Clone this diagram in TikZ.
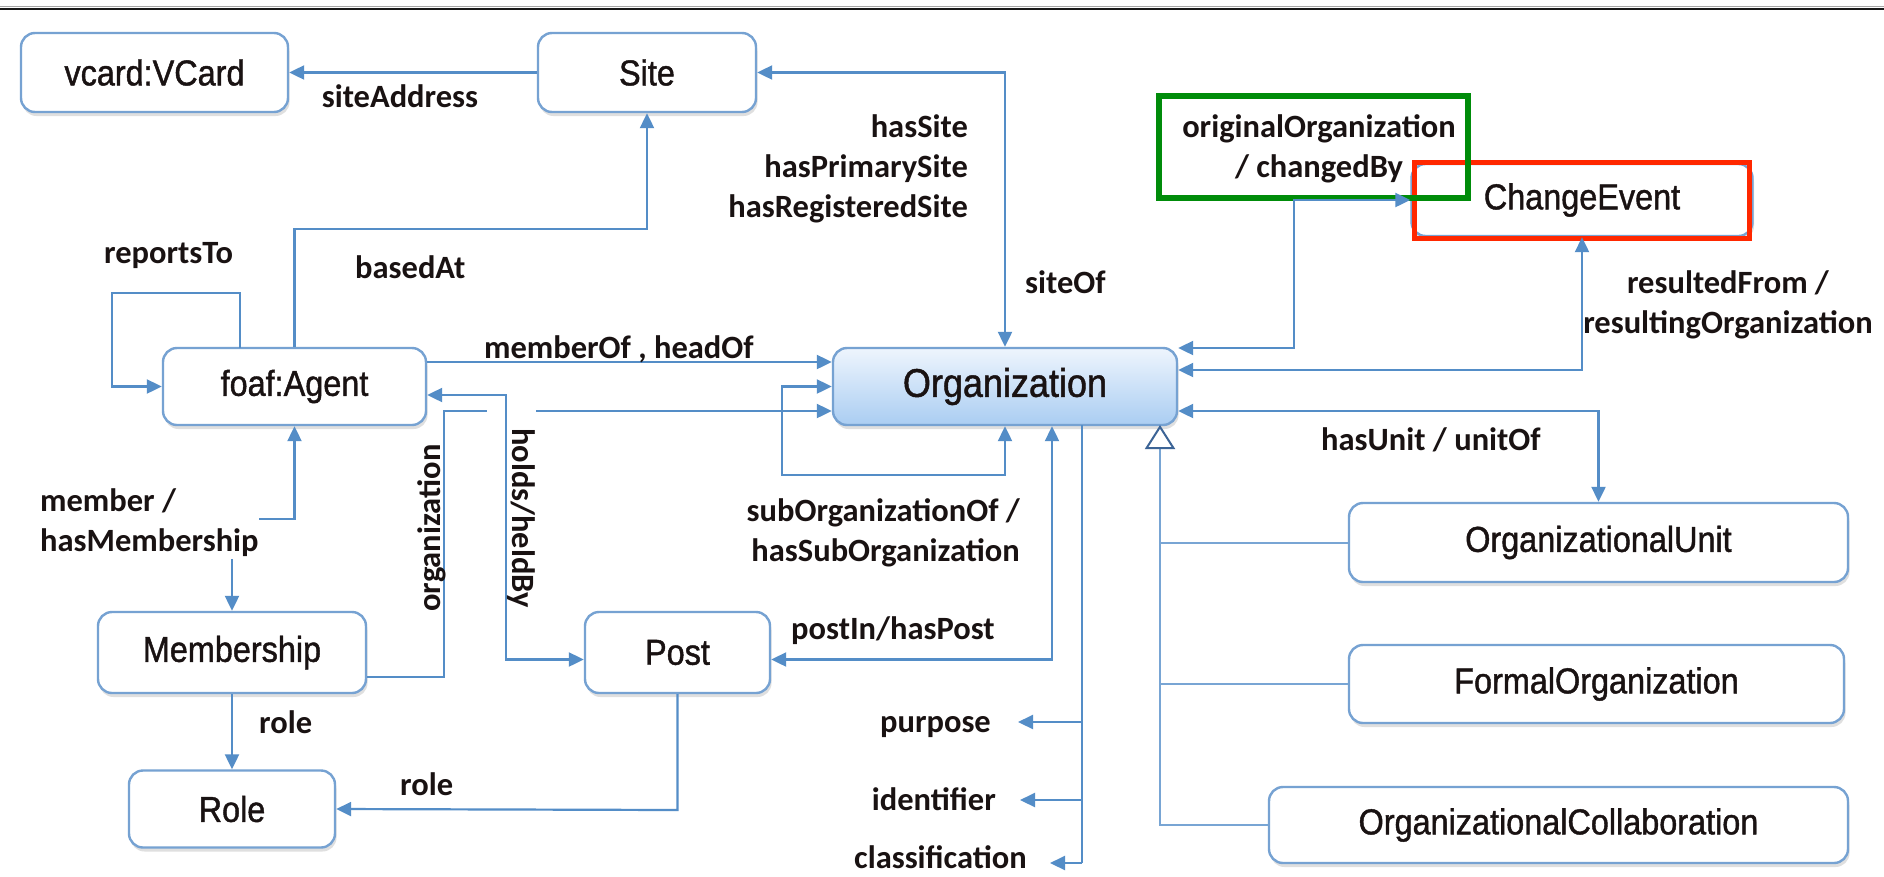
\documentclass[tikz,border=0pt]{standalone}
\usepackage{fontspec}
\setmainfont{Carlito}
\newfontfamily\nodefnt[FakeStretch=0.9,UprightFeatures={FakeBold=1.2}]{Liberation Sans}
\usetikzlibrary{arrows.meta,shadows,calc}
\definecolor{lineblue}{RGB}{84,141,199}
\definecolor{inhblue}{RGB}{120,165,212}
\definecolor{tipblue}{RGB}{60,100,150}
\definecolor{boxblue}{RGB}{118,162,210}
\definecolor{orgtop}{RGB}{238,245,253}
\definecolor{orgbot}{RGB}{170,205,242}
\definecolor{gbox}{RGB}{0,140,10}
\definecolor{rbox}{RGB}{255,40,0}
\definecolor{txt}{RGB}{25,18,18}
\begin{document}
\begin{tikzpicture}[x=1pt,y=-1pt,
  cls/.style={draw=boxblue, line width=2.4pt, rounded corners=14pt, fill=white,
    font=\nodefnt\fontsize{36}{40}\selectfont, text=txt, inner sep=0pt,
    drop shadow={opacity=0.25,shadow xshift=1.5pt,shadow yshift=-4pt}},
  lbl/.style={font=\bfseries\fontsize{32.5}{40}\selectfont, text=txt, inner sep=0pt},
  conn/.style={draw=lineblue, line width=2.2pt, -{Triangle[length=15pt,width=14pt]}},
  conn2/.style={draw=lineblue, line width=2.2pt, {Triangle[length=15pt,width=14pt]}-{Triangle[length=15pt,width=14pt]}},
  plain/.style={draw=inhblue, line width=2pt},
  inh/.style={draw=inhblue, line width=2pt, -{Triangle[length=24pt,width=30pt,fill=white,color=tipblue,line width=2pt]}},
]
\useasboundingbox (0,0) rectangle (1884,876);
\fill[white] (0,0) rectangle (1884,876);
\draw[gray!70, line width=1.5pt] (0,6.5) -- (1884,6.5);
\draw[black!90, line width=2.5pt] (0,9) -- (1884,9);

% nodes
\node[cls, minimum width=267pt, minimum height=79pt] (vcard) at (154.5,72.5) {vcard:VCard};
\node[cls, minimum width=218pt, minimum height=79pt] (site) at (647,72.5) {Site};
\node[cls, minimum width=263pt, minimum height=77pt] (agent) at (294.5,386.5) {foaf:Agent};
\node[cls, minimum width=344pt, minimum height=77pt, top color=orgtop, bottom color=orgbot,
  font=\nodefnt\fontsize{40}{44}\selectfont] (org) at (1005,386.5) {Organization};
\node[cls, minimum width=341pt, minimum height=72pt, font=\nodefnt\fontsize{36}{40}\selectfont] (change) at (1582,200) {ChangeEvent};
\node[cls, minimum width=499pt, minimum height=79pt] (orgunit) at (1598.5,542.5) {OrganizationalUnit};
\node[cls, minimum width=495pt, minimum height=78pt] (formal) at (1596.5,684) {FormalOrganization};
\node[cls, minimum width=579pt, minimum height=76pt] (collab) at (1558.5,825) {OrganizationalCollaboration};
\node[cls, minimum width=268pt, minimum height=81pt] (membership) at (232,652.5) {Membership};
\node[cls, minimum width=185pt, minimum height=81pt] (post) at (677.5,652.5) {Post};
\node[cls, minimum width=206pt, minimum height=77pt] (role) at (232,809) {Role};

% highlight boxes
\draw[rbox, line width=5pt] (1414,162) rectangle (1749,238);
\draw[gbox, line width=6pt] (1159,96) rectangle (1468,198);

% coordinates
\coordinate (ba) at (647,229);
\coordinate (rt0) at (240,348);
\coordinate (rt1) at (112,293);
\coordinate (oc) at (444,411);
\coordinate (hc) at (506,395);
\coordinate (s1) at (782,475);
\coordinate (oo) at (1294,200);
\coordinate (am) at (232,519);
\coordinate (pr) at (677,810);
\coordinate (at0) at (1082,425);
\coordinate (tp) at (1018,722);
\coordinate (ti) at (1020,800);
\coordinate (tc) at (1050,863);
\coordinate (ih) at (1160,425);

% connectors
\draw[conn] (site) -- (vcard);
\draw[conn2] (site.east) -| (org.north);
\draw[conn] (agent.north) |- (ba) -- (site.south);
\draw[conn] (rt0) |- (rt1) |- (agent.west);
\draw[conn] ($(agent.east)+(0,-24.5)$) -- ($(org.west)+(0,-24.5)$);
\draw[conn] ($(membership.east)+(0,24.5)$) -| (oc) -- ($(org.west)+(0,24.5)$);
\fill[white] (487,404) rectangle (536,418);
\draw[conn2] ($(agent.east)+(0,8.5)$) -- (hc) |- ($(post.west)+(0,7)$);
\draw[conn2] (org.west) -| (s1) -| (org.south);
\draw[conn2] ($(org.south)+(47,0)$) |- ($(post.east)+(0,7)$);
\draw[lineblue, line width=2.2pt] (at0) -- (at0 |- tc);
\draw[conn] (at0 |- tp) -- (tp);
\draw[conn] (at0 |- ti) -- (ti);
\draw[conn] (at0 |- tc) -- (tc);
\draw[conn2] (agent.south) |- (am) -| (membership.north);
\draw[conn] (membership) -- (role);
\draw[conn] (post.south) |- (pr) -- (role.east);
\draw[inh] (collab.west) -| (ih);
\draw[plain] (orgunit.west) -- (orgunit.west -| ih);
\draw[plain] (formal.west) -- (formal.west -| ih);
\draw[conn2] ($(org.east)+(0,24.5)$) -| (orgunit.north);
\draw[conn2] ($(org.east)+(0,-16.5)$) -| (change.south);
\draw[conn2] ($(org.east)+(0,-38.5)$) -| (oo) -- (change.west);

% labels
\node[lbl, anchor=base] (l-siteaddr) at (400,107) {siteAddress};
\node[lbl, anchor=east, align=right] (l-hassite) at (968,169) {hasSite\\hasPrimarySite\\hasRegisteredSite};
\node[lbl, anchor=base west] (l-siteof) at (1025,293) {siteOf};
\node[lbl, anchor=base west] (l-reports) at (104,263) {reportsTo};
\node[lbl, anchor=base west] (l-based) at (355,278) {basedAt};
\node[lbl, anchor=base west] (l-member) at (484,358) {memberOf , headOf};
\node[lbl, anchor=west, align=left, fill=white, inner ysep=2pt] (l-membership) at (40,523) {member /\\hasMembership};
\node[lbl, rotate=90] (l-org) at (432,528) {organization};
\node[lbl, rotate=-90] (l-holds) at (521,518) {holds/heldBy};
\node[lbl, anchor=base west] (l-role1) at (259,733) {role};
\node[lbl, anchor=base west] (l-role2) at (400,795) {role};
\node[lbl, anchor=east, align=right] (l-suborg) at (1020,533) {subOrganizationOf /\\hasSubOrganization};
\node[lbl, anchor=base west] (l-postin) at (791,639) {postIn/hasPost};
\node[lbl, anchor=base east] (l-purpose) at (991,732) {purpose};
\node[lbl, anchor=base east] (l-ident) at (996,810) {identifier};
\node[lbl, anchor=base east] (l-class) at (1027,868) {classification};
\node[lbl, align=center] (l-result) at (1728,305) {resultedFrom /\\resultingOrganization};
\node[lbl, anchor=base west] (l-unit) at (1321,450) {hasUnit / unitOf};
\node[lbl, align=center] (l-orig) at (1319,149) {originalOrganization\\/ changedBy};
\end{tikzpicture}
\end{document}
